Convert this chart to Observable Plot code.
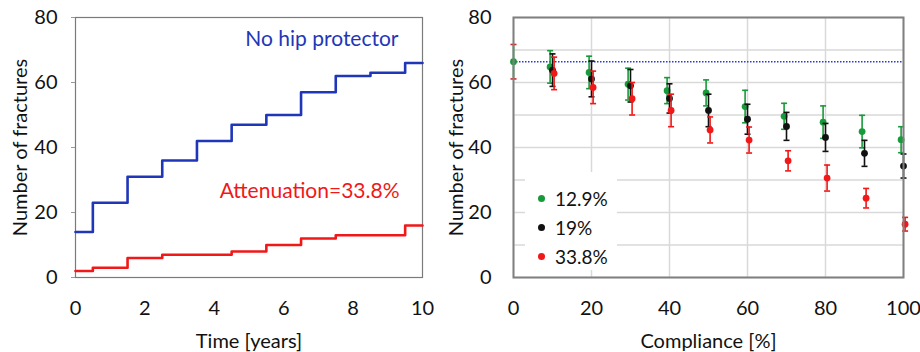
<!DOCTYPE html>
<html>
<head>
<meta charset="utf-8">
<script src="https://cdn.jsdelivr.net/npm/d3@7"></script>
<script src="https://cdn.jsdelivr.net/npm/@observablehq/plot@0.6"></script>
<style>
  html, body { margin: 0; padding: 0; background: #fff; }
  #wrap { position: relative; width: 920px; height: 352px; display: flex; font-family: Lato, sans-serif; }
  #legend { position: absolute; left: 525px; top: 172px; width: 92px; height: 98px; background: #fff; }
  .row { position: absolute; left: 0; height: 29px; display: flex; align-items: center; font-size: 19px; color: #111; }
  .row span.dot { display: inline-block; width: 7px; height: 7px; border-radius: 50%; margin-left: 13px; margin-right: 10px; }
</style>
</head>
<body>
<div id="wrap"></div>
<script>
// ---- Left panel data ----
const years = [0, 0.5, 1.5, 2.5, 3.5, 4.5, 5.5, 6.5, 7.5, 8.5, 9.5, 10];
const noProtector = [14, 23, 31, 36, 42, 47, 50, 57, 62, 63, 66, 66];
const attenuated = [2, 3, 6, 7, 7, 8, 10, 12, 13, 13, 16, 16];
const leftXTicks = [0, 2, 4, 6, 8, 10];
const yTicks = [0, 20, 40, 60, 80];

// ---- Right panel data ----
const compliance = [10, 20, 30, 40, 50, 60, 70, 80, 90, 100];
const rightXTicks = [0, 20, 40, 60, 80, 100];
const baselineValue = 66.4;
const baselineErr = 5.3;
const s129 = [64.8, 63.1, 59.5, 57.5, 56.8, 52.6, 49.6, 47.8, 44.9, 42.4];
const s129err = [5, 5, 4.9, 4, 4, 5, 4, 5, 5, 4];
const s19 = [63.8, 61.1, 59.0, 55.1, 51.4, 48.7, 46.5, 43.1, 38.2, 34.3];
const s19err = [5, 5.5, 5, 4.5, 5, 4.6, 4.3, 4.3, 4, 3.7];
const s338 = [62.8, 58.5, 55.0, 51.4, 45.4, 42.3, 35.9, 30.6, 24.4, 16.4];
const s338err = [5, 5, 5, 5, 4, 4, 3.1, 4, 3, 2.1];
const seriesNames = ["12.9%", "19%", "33.8%"];

const BLUE = "#1f36b8", RED = "#f01818", GREEN = "#179a3a", BLACK = "#111111";
const FONT = "Lato, sans-serif";

const stepBlue = years.map((t, i) => ({t, v: noProtector[i]}));
const stepRed = years.map((t, i) => ({t, v: attenuated[i]}));

const left = Plot.plot({
  width: 440, height: 352,
  marginLeft: 75, marginRight: 18, marginTop: 17, marginBottom: 75,
  style: {fontFamily: FONT, fontSize: "19px", color: "#111", background: "transparent"},
  x: {domain: [0, 10]},
  y: {domain: [0, 80]},
  marks: [
    Plot.frame({stroke: "#7a7a7a", strokeWidth: 1.2}),
    Plot.axisY({ticks: yTicks, tickSize: 4, tickPadding: 14, stroke: "#999", fontSize: 20,
      label: "Number of fractures", labelAnchor: "center", labelArrow: "none", labelOffset: 63}),
    Plot.axisX({ticks: leftXTicks, tickSize: 0, tickPadding: 23, fontSize: 20,
      label: "Time [years]", labelAnchor: "center", labelArrow: "none", labelOffset: 70}),
    Plot.line(stepBlue, {x: "t", y: "v", curve: "step-after", stroke: BLUE, strokeWidth: 2.6}),
    Plot.line(stepRed, {x: "t", y: "v", curve: "step-after", stroke: RED, strokeWidth: 2.6}),
    Plot.text(["No hip protector"], {frameAnchor: "top-right", dx: -24, dy: 14, fill: BLUE, fontSize: 21, textAnchor: "end"}),
    Plot.text(["Attenuation=33.8%"], {frameAnchor: "top-right", dx: -23, dy: 166, fill: RED, fontSize: 21, textAnchor: "end"})
  ]
});

const capSymbol = {
  draw(ctx) { ctx.moveTo(-3, 0); ctx.lineTo(3, 0); }
};

function seriesData(vals, errs) {
  return compliance.map((c, i) => ({c, v: vals[i], lo: vals[i] - errs[i], hi: vals[i] + errs[i]}));
}
const series = [
  {name: seriesNames[0], data: seriesData(s129, s129err), color: GREEN, dx: -2.4},
  {name: seriesNames[1], data: seriesData(s19, s19err), color: BLACK, dx: 0},
  {name: seriesNames[2], data: seriesData(s338, s338err), color: RED, dx: 1.6}
];
const base = [{c: 0, v: baselineValue, lo: baselineValue - baselineErr, hi: baselineValue + baselineErr}];

function errMarks(data, color, dx, capColor) {
  return [
    Plot.ruleX(data, {x: "c", y1: "lo", y2: "hi", stroke: color, strokeWidth: 1.6, dx}),
    Plot.dot(data, {x: "c", y: "hi", symbol: capSymbol, stroke: capColor || color, strokeWidth: 1.6, dx}),
    Plot.dot(data, {x: "c", y: "lo", symbol: capSymbol, stroke: capColor || color, strokeWidth: 1.6, dx}),
    Plot.dot(data, {x: "c", y: "v", r: 3.4, fill: color, stroke: "none", dx})
  ];
}

const right = Plot.plot({
  width: 480, height: 352,
  marginLeft: 73, marginRight: 17, marginTop: 17, marginBottom: 75,
  style: {fontFamily: FONT, fontSize: "19px", color: "#111", background: "transparent"},
  x: {domain: [0, 100]},
  y: {domain: [0, 80]},
  marks: [
    Plot.gridY({ticks: d3.range(0, 81, 10), stroke: "#d9d9d9", strokeOpacity: 1, strokeWidth: 1.5}),
    Plot.gridX({ticks: rightXTicks, stroke: "#d9d9d9", strokeOpacity: 1, strokeWidth: 1.5}),
    Plot.axisY({ticks: yTicks, tickSize: 0, tickPadding: 22, fontSize: 20,
      label: "Number of fractures", labelAnchor: "center", labelArrow: "none", labelOffset: 65}),
    Plot.axisX({ticks: rightXTicks, tickSize: 0, tickPadding: 23, fontSize: 20,
      label: "Compliance [%]", labelAnchor: "center", labelArrow: "none", labelOffset: 70}),
    Plot.ruleY([baselineValue], {x1: 0, x2: 100, stroke: "#2a3bd0", strokeWidth: 1.4, strokeDasharray: "1.5,1.5"}),
    ...errMarks(base, GREEN, 0, RED),
    ...series.flatMap(s => errMarks(s.data, s.color, s.dx)),
    Plot.frame({stroke: "#808080", strokeWidth: 2})
  ]
});

const wrap = document.getElementById("wrap");
wrap.appendChild(left);
wrap.appendChild(right);

const legend = document.createElement("div");
legend.id = "legend";
series.forEach((s, i) => {
  const row = document.createElement("div");
  row.className = "row";
  row.style.top = (12 + i * 29) + "px";
  const dot = document.createElement("span");
  dot.className = "dot";
  dot.style.background = s.color;
  const label = document.createElement("span");
  label.textContent = s.name;
  row.appendChild(dot);
  row.appendChild(label);
  legend.appendChild(row);
});
wrap.appendChild(legend);
</script>
</body>
</html>
